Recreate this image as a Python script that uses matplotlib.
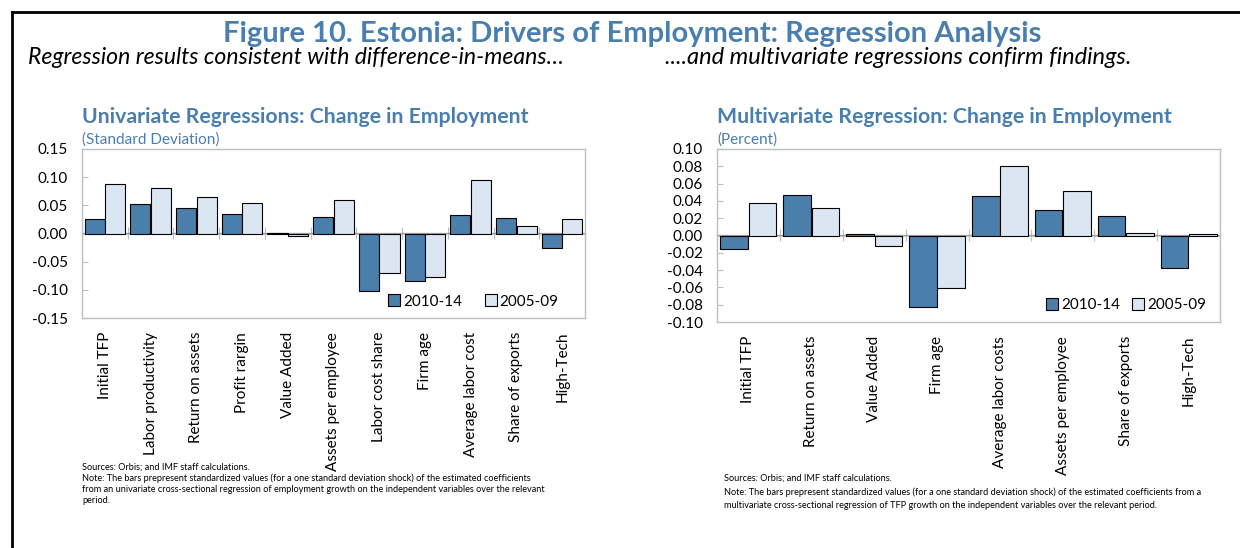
import numpy as np
import matplotlib
matplotlib.use("Agg")
import matplotlib.pyplot as plt
from matplotlib.lines import Line2D

# =========================
# 1. Data
# =========================

left_categories = ["Initial TFP", "Labor productivity", "Return on assets", "Profit rargin",
                   "Value Added", "Assets per employee", "Labor cost share", "Firm age",
                   "Average labor cost", "Share of exports", "High-Tech"]
left_2010_14 = [0.025, 0.052, 0.045, 0.034, 0.001, 0.030, -0.102, -0.085, 0.033, 0.027, -0.025]
left_2005_09 = [0.087, 0.080, 0.064, 0.055, -0.005, 0.060, -0.070, -0.077, 0.095, 0.013, 0.025]
left_yticks = [-0.15, -0.10, -0.05, 0.00, 0.05, 0.10, 0.15]

right_categories = ["Initial TFP", "Return on assets", "Value Added", "Firm age",
                    "Average labor costs", "Assets per employee", "Share of exports", "High-Tech"]
right_2010_14 = [-0.016, 0.047, 0.002, -0.083, 0.046, 0.029, 0.023, -0.037]
right_2005_09 = [0.037, 0.032, -0.012, -0.061, 0.080, 0.051, 0.003, 0.002]
right_yticks = [-0.10, -0.08, -0.06, -0.04, -0.02, 0.00, 0.02, 0.04, 0.06, 0.08, 0.10]

series_names = ["2010-14", "2005-09"]

# =========================
# 2. Style
# =========================

plt.rcParams["font.family"] = ["Lato", "DejaVu Sans"]

BLUE_TITLE = "#4A7EAE"
DARK = "#4A7EAB"
LIGHT = "#DCE6F2"
GRID = "#BFBFBF"

W, H = 1240, 548
fig = plt.figure(figsize=(W / 100, H / 100), dpi=100)


def px(x, y):
    return x / W, 1 - y / H


# =========================
# 3. Panel drawing
# =========================

def draw_panel(ax, cats, s1, s2, yticks, fmt, colspace, anchor):
    x = np.arange(len(cats))
    bw = 0.44
    ax.bar(x - 0.225, s1, bw, color=DARK, edgecolor="black", linewidth=0.8, label=series_names[0], zorder=3)
    ax.bar(x + 0.225, s2, bw, color=LIGHT, edgecolor="black", linewidth=0.8, label=series_names[1], zorder=3)
    ax.axhline(0, color=GRID, linewidth=1.2, zorder=2)

    ax.set_xlim(-0.5, len(cats) - 0.5)
    ax.set_ylim(yticks[0], yticks[-1])
    ax.set_yticks(yticks)
    ax.set_yticklabels([fmt.format(v) for v in yticks], fontsize=11)
    ax.tick_params(axis="y", direction="in", length=4, color=GRID, pad=10)

    ax.set_xticks(x)
    ax.set_xticklabels(cats, rotation=90, fontsize=11)
    ax.tick_params(axis="x", length=0, pad=10)

    # category separators on the zero line
    sep = ax.secondary_xaxis(0.5)
    sep.set_xticks(np.arange(len(cats) + 1) - 0.5)
    sep.set_xticklabels([])
    sep.tick_params(axis="x", direction="inout", length=8, color=GRID)
    sep.spines["bottom"].set_visible(False)

    for sp in ax.spines.values():
        sp.set_color(GRID)
        sp.set_linewidth(1.0)

    handles = [Line2D([], [], marker="s", linestyle="none", markersize=9,
                      markerfacecolor=c, markeredgecolor="black", markeredgewidth=0.8)
               for c in (DARK, LIGHT)]
    ax.legend(handles, series_names, loc="lower right", bbox_to_anchor=anchor, ncol=2,
              frameon=False, fontsize=11, handlelength=0.9, handletextpad=0.15,
              columnspacing=colspace, borderaxespad=0.0)


ax1 = fig.add_axes([82 / W, 1 - 318 / H, (585 - 82) / W, (318 - 149) / H])
draw_panel(ax1, left_categories, left_2010_14, left_2005_09, left_yticks, "{:.2f}", 1.4, (0.96, 0.02))

ax2 = fig.add_axes([717 / W, 1 - 322 / H, (1220 - 717) / W, (322 - 149) / H])
draw_panel(ax2, right_categories, right_2010_14, right_2005_09, right_yticks, "{:.2f}", 0.7, (0.985, 0.02))

# =========================
# 4. Titles and notes
# =========================

fig.text(*px(632, 34), "Figure 10. Estonia: Drivers of Employment: Regression Analysis",
         ha="center", va="center", fontsize=21, fontweight="bold", color=BLUE_TITLE)
fig.text(*px(28, 58), "Regression results consistent with difference-in-means\u2026",
         ha="left", va="center", fontsize=16.6, style="italic")
fig.text(*px(665, 58), "....and multivariate regressions confirm findings.",
         ha="left", va="center", fontsize=17, style="italic")

fig.text(*px(82, 117), "Univariate Regressions: Change in Employment",
         ha="left", va="center", fontsize=15.3, fontweight="bold", color=BLUE_TITLE)
fig.text(*px(82, 140), "(Standard Deviation)", ha="left", va="center", fontsize=11, color=BLUE_TITLE)
fig.text(*px(717, 117), "Multivariate Regression: Change in Employment",
         ha="left", va="center", fontsize=15.3, fontweight="bold", color=BLUE_TITLE)
fig.text(*px(717, 140), "(Percent)", ha="left", va="center", fontsize=11, color=BLUE_TITLE)

left_notes = ("Sources: Orbis; and IMF staff calculations.\n"
              "Note: The bars prepresent standardized values (for a one standard deviation shock) of the estimated coefficients\n"
              "from an univariate cross-sectional regression of employment growth on the independent variables over the relevant\n"
              "period.")
fig.text(*px(82, 463), left_notes, ha="left", va="top", fontsize=6.6, linespacing=1.25)

right_notes = ("Sources: Orbis; and IMF staff calculations.\n"
               "Note: The bars prepresent standardized values (for a one standard deviation shock) of the estimated coefficients from a\n"
               "multivariate cross-sectional regression of TFP growth on the independent variables over the relevant period.")
fig.text(*px(724, 474), right_notes, ha="left", va="top", fontsize=6.6, linespacing=1.6)

# frame lines (top and left)
fig.add_artist(Line2D([12 / W, 1], [1 - 12 / H, 1 - 12 / H], color="black", linewidth=2))
fig.add_artist(Line2D([12 / W, 12 / W], [1 - 12 / H, 0], color="black", linewidth=2))

fig.savefig("out.png", dpi=100)
